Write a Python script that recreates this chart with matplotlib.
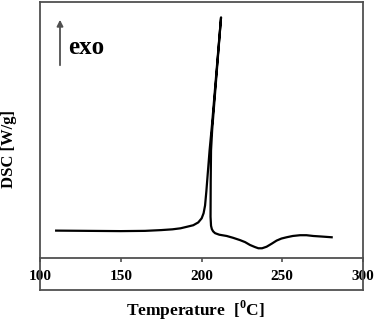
import matplotlib
matplotlib.use("Agg")
import matplotlib.pyplot as plt
from matplotlib.lines import Line2D

plt.rcParams['font.family'] = ['Liberation Serif', 'DejaVu Serif']
plt.rcParams['font.weight'] = 'bold'
plt.rcParams['mathtext.fontset'] = 'custom'
plt.rcParams['mathtext.rm'] = 'Liberation Serif'
plt.rcParams['mathtext.bf'] = 'Liberation Serif:bold'

# DSC trace (temperature in degC, heat flow in arbitrary units)
temperature = [110, 130, 150, 165, 175, 182, 187, 191, 194.9, 198, 200.1, 201.3, 202.2, 203.0,
               204.0, 205.0, 206.5, 212.1, 211.6, 206.6, 205.9, 205.7, 205.6, 205.9, 206.4,
               207.2, 208.4, 211, 215.6, 219.5, 223.8, 227, 230, 233, 235.2, 237.5, 240.3,
               243.5, 246.5, 249.5, 252.7, 256.5, 261, 265, 269.2, 274, 280.6]
dsc = [10.7, 10.6, 10.5, 10.6, 10.9, 11.2, 11.6, 12.2, 12.8, 13.9, 15.5, 17.5, 20.5, 26.0,
       34.0, 42.0, 52.0, 94.0, 90.0, 50.0, 42.0, 30.0, 16.1, 12.6, 11.3,
       10.4, 9.7, 9.1, 8.6, 7.9, 7.0, 6.2, 5.1, 4.3, 3.8, 3.8, 4.4,
       5.6, 6.8, 7.6, 8.1, 8.6, 8.9, 8.9, 8.6, 8.4, 8.1]

xticks = [100, 150, 200, 250, 300]

W, H = 378, 323
fig = plt.figure(figsize=(W / 100, H / 100), dpi=100)
frame_col = '#505050'

ax = fig.add_axes([40 / W, 1 - 258 / H, 323 / W, 256 / H])
ax.plot(temperature, dsc, color='black', lw=1.6, solid_joinstyle='round')
ax.set_xlim(100, 300)
ax.set_ylim(0, 100)
ax.set_xticks(xticks)
ax.set_xticklabels([str(t) for t in xticks])
ax.set_yticks([])
ax.tick_params(axis='x', direction='out', length=3, width=1.2, color=frame_col,
               labelsize=11, pad=6)
for lab in ax.get_xticklabels():
    lab.set_fontweight('bold')
for sp in ax.spines.values():
    sp.set_color(frame_col)
    sp.set_linewidth(1.3)

# lower frame box below the x axis
yb = 1 - 290 / H
ya = 1 - 258 / H
xl, xr = 40 / W, 363 / W
for xs, ys in [([xl, xl], [ya, yb]), ([xr, xr], [ya, yb]), ([xl, xr], [yb, yb])]:
    fig.add_artist(Line2D(xs, ys, color=frame_col, lw=1.3, transform=fig.transFigure))

# exo arrow and label
ax.annotate('', xy=(60 / W, 1 - 17 / H), xytext=(60 / W, 1 - 68 / H),
            xycoords='figure fraction', textcoords='figure fraction',
            arrowprops=dict(arrowstyle='-|>', color=frame_col, lw=1.3,
                            mutation_scale=9))
fig.text(68 / W, 1 - 53.5 / H, 'exo', fontsize=18, fontweight='bold',
         ha='left', va='baseline')

fig.text(9 / W, 1 - 149 / H, 'DSC [W/g]', fontsize=12, fontweight='bold',
         rotation=90, ha='center', va='center')
fig.text(195 / W, 1 - 316 / H, r'Temperature  [$^{\mathbf{0}}$C]', fontsize=12.5,
         fontweight='bold', ha='center', va='baseline')

fig.savefig('out.png', dpi=100)
